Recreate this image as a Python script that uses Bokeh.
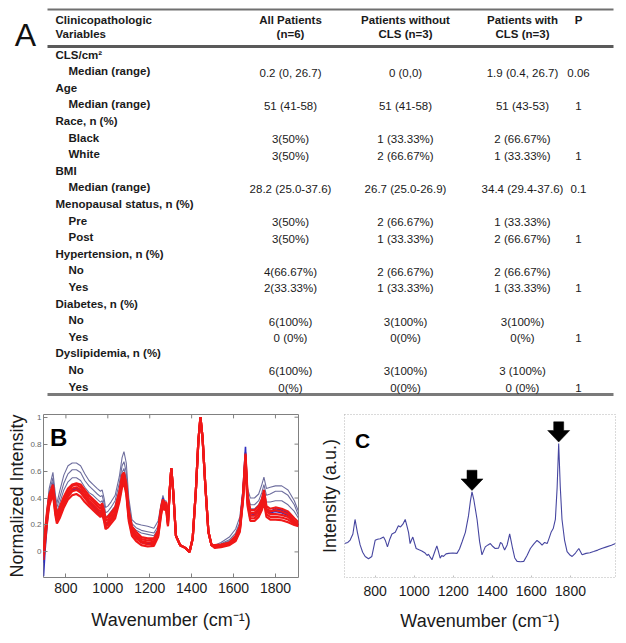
from bokeh.plotting import figure
from bokeh.layouts import column, row
from bokeh.models import Range1d, LinearAxis, FixedTicker, CustomJSTickFormatter
from bokeh.core.properties import value
from bokeh.embed import file_html
from bokeh.resources import INLINE

FONT = "Liberation Sans"

# ---------------- Panel A: table data ----------------
header_line1 = ["Clinicopathologic", "All Patients", "Patients without", "Patients with", "P"]
header_line2 = ["Variables", "(n=6)", "CLS (n=3)", "CLS (n=3)"]
row_labels = ["CLS/cm\u00b2", "Median (range)", "Age", "Median (range)", "Race, n (%)", "Black", "White",
              "BMI", "Median (range)", "Menopausal status, n (%)", "Pre", "Post", "Hypertension, n (%)",
              "No", "Yes", "Diabetes, n (%)", "No", "Yes", "Dyslipidemia, n (%)", "No", "Yes"]
row_is_group = [1, 0, 1, 0, 1, 0, 0, 1, 0, 1, 0, 0, 1, 0, 0, 1, 0, 0, 1, 0, 0]
all_patients = ["", "0.2 (0, 26.7)", "", "51 (41-58)", "", "3(50%)", "3(50%)", "", "28.2 (25.0-37.6)", "",
                "3(50%)", "3(50%)", "", "4(66.67%)", "2(33.33%)", "", "6(100%)", "0 (0%)", "", "6(100%)", "0(%)"]
without_cls = ["", "0 (0,0)", "", "51 (41-58)", "", "1 (33.33%)", "2 (66.67%)", "", "26.7 (25.0-26.9)", "",
               "2 (66.67%)", "1 (33.33%)", "", "2 (66.67%)", "1 (33.33%)", "", "3(100%)", "0(0%)", "", "3(100%)", "0(0%)"]
with_cls = ["", "1.9 (0.4, 26.7)", "", "51 (43-53)", "", "2 (66.67%)", "1 (33.33%)", "", "34.4 (29.4-37.6)", "",
            "1 (33.33%)", "2 (66.67%)", "", "2 (66.67%)", "1 (33.33%)", "", "3(100%)", "0(%)", "", "3 (100%)", "0 (0%)"]
p_values = ["", "0.06", "", "1", "", "", "1", "", "0.1", "", "", "1", "", "", "1", "", "", "1", "", "", "1"]

# ---------------- Panel B: spectra ----------------
wn_b = [693, 700, 710, 720, 738, 750, 757, 770, 790, 810, 830, 850, 870, 890, 910, 930, 950, 965, 973, 982,
        989, 1000, 1015, 1035, 1055, 1068, 1077, 1088, 1100, 1115, 1135, 1160, 1190, 1220, 1240, 1255, 1263,
        1270, 1278, 1287, 1295, 1303, 1312, 1325, 1345, 1370, 1390, 1405, 1420, 1432, 1442, 1452, 1465, 1480,
        1495, 1510, 1540, 1580, 1610, 1630, 1645, 1657, 1667, 1680, 1700, 1720, 1735, 1745, 1757, 1775, 1800,
        1830, 1860, 1890, 1910]

red_1 = [-0.06, 0.06, 0.22, 0.34, 0.43, 0.27, 0.21, 0.25, 0.33, 0.39, 0.42, 0.43, 0.41, 0.37, 0.34, 0.31, 0.28, 0.26, 0.28, 0.23,
         0.17, 0.18, 0.21, 0.25, 0.37, 0.48, 0.51, 0.43, 0.23, 0.12, 0.08, 0.05, 0.04, 0.045, 0.11, 0.28, 0.34,
         0.31, 0.32, 0.19, 0.45, 0.62, 0.45, 0.12, 0.05, 0.03, 0.0, 0.10, 0.45, 0.82, 1.0, 0.85, 0.5, 0.15,
         0.05, 0.03, 0.035, 0.05, 0.08, 0.15, 0.38, 0.66, 0.34, 0.23, 0.23, 0.26, 0.31, 0.37, 0.26, 0.24, 0.24,
         0.235, 0.22, 0.20, 0.19]
red_2 = [-0.03, 0.09, 0.24, 0.36, 0.45, 0.29, 0.23, 0.27, 0.35, 0.41, 0.45, 0.46, 0.44, 0.40, 0.36, 0.33, 0.30, 0.28, 0.30, 0.25,
         0.19, 0.20, 0.23, 0.27, 0.39, 0.51, 0.54, 0.45, 0.25, 0.14, 0.10, 0.07, 0.055, 0.06, 0.12, 0.30, 0.36,
         0.33, 0.34, 0.20, 0.45, 0.62, 0.45, 0.12, 0.05, 0.03, 0.0, 0.10, 0.45, 0.82, 1.0, 0.85, 0.5, 0.15,
         0.05, 0.035, 0.04, 0.055, 0.09, 0.16, 0.39, 0.68, 0.36, 0.25, 0.25, 0.28, 0.33, 0.40, 0.28, 0.26, 0.26,
         0.255, 0.24, 0.21, 0.20]
red_3 = [-0.01, 0.11, 0.26, 0.38, 0.47, 0.31, 0.25, 0.29, 0.37, 0.43, 0.47, 0.48, 0.46, 0.42, 0.38, 0.35, 0.32, 0.30, 0.32, 0.27,
         0.21, 0.22, 0.25, 0.29, 0.41, 0.53, 0.56, 0.47, 0.27, 0.16, 0.12, 0.08, 0.07, 0.075, 0.14, 0.32, 0.37,
         0.34, 0.35, 0.21, 0.45, 0.62, 0.45, 0.12, 0.05, 0.03, 0.0, 0.10, 0.45, 0.82, 1.0, 0.85, 0.5, 0.15,
         0.05, 0.04, 0.045, 0.06, 0.10, 0.17, 0.40, 0.70, 0.38, 0.27, 0.27, 0.30, 0.35, 0.42, 0.30, 0.28, 0.28,
         0.275, 0.26, 0.22, 0.20]
red_4 = [0.0, 0.13, 0.28, 0.40, 0.49, 0.33, 0.27, 0.31, 0.39, 0.45, 0.49, 0.50, 0.48, 0.44, 0.40, 0.37, 0.34, 0.32, 0.34, 0.29,
         0.23, 0.24, 0.27, 0.31, 0.43, 0.55, 0.58, 0.49, 0.29, 0.17, 0.13, 0.095, 0.085, 0.09, 0.15, 0.33, 0.38,
         0.35, 0.36, 0.22, 0.45, 0.62, 0.45, 0.12, 0.05, 0.03, 0.0, 0.10, 0.45, 0.82, 1.0, 0.85, 0.5, 0.15,
         0.05, 0.045, 0.05, 0.065, 0.11, 0.18, 0.41, 0.72, 0.40, 0.29, 0.29, 0.32, 0.37, 0.44, 0.32, 0.30, 0.31,
         0.30, 0.28, 0.23, 0.21]
red_5 = [0.02, 0.15, 0.30, 0.42, 0.50, 0.35, 0.28, 0.33, 0.41, 0.47, 0.50, 0.51, 0.50, 0.46, 0.42, 0.39, 0.36, 0.34, 0.36, 0.31,
         0.25, 0.26, 0.29, 0.33, 0.45, 0.57, 0.59, 0.51, 0.31, 0.19, 0.15, 0.11, 0.10, 0.10, 0.16, 0.34, 0.39,
         0.36, 0.37, 0.23, 0.45, 0.62, 0.45, 0.12, 0.05, 0.03, 0.0, 0.10, 0.45, 0.82, 1.0, 0.85, 0.5, 0.15,
         0.05, 0.05, 0.055, 0.07, 0.12, 0.19, 0.42, 0.73, 0.42, 0.31, 0.31, 0.34, 0.39, 0.46, 0.34, 0.32, 0.33,
         0.32, 0.30, 0.25, 0.22]
blue_1 = [-0.18, 0.0, 0.20, 0.38, 0.50, 0.30, 0.24, 0.28, 0.36, 0.42, 0.46, 0.47, 0.45, 0.41, 0.37, 0.34, 0.31, 0.28, 0.33, 0.26,
          0.20, 0.21, 0.24, 0.28, 0.40, 0.54, 0.57, 0.46, 0.26, 0.15, 0.11, 0.075, 0.06, 0.07, 0.13, 0.31, 0.40,
          0.35, 0.36, 0.21, 0.45, 0.62, 0.45, 0.12, 0.05, 0.03, 0.0, 0.10, 0.45, 0.82, 1.0, 0.85, 0.5, 0.15,
          0.05, 0.04, 0.05, 0.06, 0.10, 0.18, 0.45, 0.78, 0.38, 0.27, 0.28, 0.31, 0.36, 0.43, 0.31, 0.29, 0.30,
          0.29, 0.27, 0.22, 0.20]
blue_2 = [-0.08, 0.08, 0.25, 0.37, 0.46, 0.30, 0.24, 0.28, 0.36, 0.42, 0.46, 0.47, 0.45, 0.41, 0.37, 0.33, 0.29, 0.26, 0.29, 0.24,
          0.19, 0.21, 0.24, 0.28, 0.40, 0.52, 0.55, 0.46, 0.26, 0.15, 0.11, 0.07, 0.06, 0.065, 0.13, 0.31, 0.37,
          0.34, 0.35, 0.21, 0.45, 0.62, 0.45, 0.12, 0.05, 0.03, 0.0, 0.10, 0.45, 0.82, 1.0, 0.85, 0.5, 0.15,
          0.05, 0.04, 0.05, 0.06, 0.10, 0.17, 0.42, 0.74, 0.37, 0.27, 0.27, 0.30, 0.35, 0.42, 0.32, 0.30, 0.32,
          0.31, 0.29, 0.23, 0.20]
gray_1 = [-0.02, 0.14, 0.32, 0.47, 0.59, 0.42, 0.36, 0.45, 0.57, 0.64, 0.66, 0.66, 0.64, 0.58, 0.53, 0.50, 0.47, 0.45, 0.46, 0.40,
          0.33, 0.34, 0.37, 0.42, 0.56, 0.70, 0.745, 0.66, 0.40, 0.24, 0.21, 0.20, 0.19, 0.175, 0.23, 0.36, 0.42,
          0.38, 0.38, 0.24, 0.45, 0.62, 0.45, 0.12, 0.05, 0.03, 0.0, 0.10, 0.45, 0.82, 1.0, 0.85, 0.5, 0.15,
          0.06, 0.05, 0.07, 0.11, 0.17, 0.26, 0.47, 0.66, 0.47, 0.40, 0.40, 0.43, 0.50, 0.555, 0.47, 0.48, 0.49,
          0.49, 0.46, 0.38, 0.30]
gray_2 = [-0.04, 0.12, 0.30, 0.44, 0.55, 0.39, 0.33, 0.40, 0.51, 0.58, 0.61, 0.61, 0.59, 0.53, 0.49, 0.46, 0.43, 0.41, 0.42, 0.36,
          0.29, 0.30, 0.33, 0.38, 0.51, 0.64, 0.67, 0.59, 0.36, 0.21, 0.18, 0.16, 0.15, 0.14, 0.19, 0.34, 0.40,
          0.36, 0.37, 0.23, 0.45, 0.62, 0.45, 0.12, 0.05, 0.03, 0.0, 0.10, 0.45, 0.82, 1.0, 0.85, 0.5, 0.15,
          0.06, 0.045, 0.06, 0.09, 0.14, 0.22, 0.44, 0.68, 0.43, 0.35, 0.35, 0.38, 0.44, 0.50, 0.42, 0.43, 0.45,
          0.45, 0.42, 0.35, 0.27]
gray_3 = [-0.10, 0.05, 0.25, 0.40, 0.52, 0.35, 0.30, 0.36, 0.46, 0.52, 0.55, 0.55, 0.53, 0.48, 0.44, 0.42, 0.39, 0.37, 0.38, 0.32,
          0.26, 0.27, 0.30, 0.34, 0.46, 0.59, 0.62, 0.54, 0.32, 0.19, 0.16, 0.14, 0.13, 0.12, 0.17, 0.33, 0.39,
          0.35, 0.36, 0.22, 0.45, 0.62, 0.45, 0.12, 0.05, 0.03, 0.0, 0.10, 0.45, 0.82, 1.0, 0.85, 0.5, 0.15,
          0.055, 0.04, 0.055, 0.08, 0.12, 0.20, 0.42, 0.70, 0.41, 0.32, 0.32, 0.35, 0.40, 0.46, 0.37, 0.37, 0.38,
          0.38, 0.35, 0.30, 0.25]
b_ticks_x = [800, 1000, 1200, 1400, 1600, 1800]
b_ticks_y = [0, 0.2, 0.4, 0.6, 0.8, 1.0]

# ---------------- Panel C: single spectrum ----------------
wn_c = [643, 660, 672, 686, 697, 709, 723, 736, 749, 766, 783, 800, 812, 826, 843, 853, 863, 875, 886, 903,
        919, 930, 942, 954, 962, 971, 979, 986, 993, 1002, 1010, 1025, 1039, 1056, 1066, 1073, 1082, 1091, 1103,
        1116, 1124, 1133, 1141, 1150, 1163, 1176, 1198, 1219, 1232, 1245, 1262, 1278, 1288, 1296, 1305, 1322,
        1335, 1347, 1356, 1364, 1378, 1390, 1403, 1415, 1432, 1442, 1450, 1457, 1463, 1476, 1489, 1497, 1504,
        1515, 1527, 1545, 1561, 1578, 1595, 1612, 1629, 1642, 1655, 1668, 1681, 1692, 1701, 1712, 1723, 1732,
        1740, 1748, 1757, 1770, 1783, 1796, 1809, 1826, 1843, 1860, 1880, 1900, 1919, 1940, 1960, 1985, 2010, 2031]
int_c = [0.208, 0.215, 0.230, 0.267, 0.356, 0.277, 0.200, 0.155, 0.129, 0.115, 0.129, 0.228, 0.235, 0.238, 0.248,
         0.225, 0.188, 0.235, 0.267, 0.277, 0.317, 0.310, 0.327, 0.356, 0.320, 0.277, 0.208, 0.230, 0.248, 0.210,
         0.178, 0.170, 0.163, 0.150, 0.135, 0.143, 0.125, 0.109, 0.150, 0.194, 0.160, 0.119, 0.135, 0.129, 0.145,
         0.148, 0.150, 0.148, 0.175, 0.218, 0.277, 0.378, 0.470, 0.525, 0.480, 0.356, 0.220, 0.139, 0.165, 0.188,
         0.200, 0.208, 0.190, 0.178, 0.180, 0.215, 0.208, 0.185, 0.169, 0.200, 0.267, 0.220, 0.178, 0.120, 0.099,
         0.097, 0.099, 0.135, 0.178, 0.205, 0.228, 0.215, 0.198, 0.215, 0.208, 0.245, 0.277, 0.300, 0.356, 0.550,
         0.822, 0.560, 0.356, 0.230, 0.159, 0.140, 0.129, 0.150, 0.178, 0.139, 0.148, 0.152, 0.159, 0.168, 0.178,
         0.188, 0.198, 0.208]
c_peak_wn = [1296, 1740]
c_peak_int = [0.525, 0.822]
c_ticks_x = [800, 1000, 1200, 1400, 1600, 1800]

# =============== Panel A figure ===============
TW, TH = 623, 400
pt = figure(width=TW, height=TH, x_range=Range1d(0, TW), y_range=Range1d(TH, 0),
            output_backend="svg", toolbar_location=None, min_border=0,
            x_axis_location=None, y_axis_location=None, outline_line_color=None)
pt.grid.visible = False
TXT = "#1a1a1a"
FS = "11.5px"
col_x = [290, 405, 522, 578]
label_x_group, label_x_sub = 55, 68
row_y0, row_dy = 54.0, 16.6

pt.segment(x0=[47, 47, 47], y0=[9, 46, 394], x1=[613, 613, 613], y1=[9, 46, 394],
           line_width=[2, 3, 3], line_color=["#707070", "#5a5a5a", "#7a7a7a"])

pt.text(x=[label_x_group, label_x_group], y=[19, 33], text=[header_line1[0], header_line2[0]],
        text_font=value(FONT), text_font_size=FS, text_font_style="bold", text_align="left",
        text_baseline="middle", text_color=TXT)
pt.text(x=col_x, y=[19] * 4, text=header_line1[1:], text_font=value(FONT), text_font_size=FS,
        text_font_style="bold", text_align="center", text_baseline="middle", text_color=TXT)
pt.text(x=col_x[:3], y=[33] * 3, text=header_line2[1:], text_font=value(FONT), text_font_size=FS,
        text_font_style="bold", text_align="center", text_baseline="middle", text_color=TXT)

ys = [row_y0 + i * row_dy for i in range(len(row_labels))]
lx = [label_x_group if g else label_x_sub for g in row_is_group]
pt.text(x=lx, y=ys, text=row_labels, text_font=value(FONT), text_font_size=FS, text_font_style="bold",
        text_align="left", text_baseline="middle", text_color=TXT)
for cx, colvals in zip(col_x, [all_patients, without_cls, with_cls, p_values]):
    keep = [i for i, v in enumerate(colvals) if v]
    pt.text(x=[cx] * len(keep), y=[ys[i] + 1.5 for i in keep], text=[colvals[i] for i in keep],
            text_font=value(FONT), text_font_size=FS, text_align="center", text_baseline="middle",
            text_color=TXT)

pt.text(x=[25], y=[34], text=["A"], text_font=value(FONT), text_font_size="32px",
        text_align="center", text_baseline="middle", text_color="#111111")


def style_axis(ax, ticks, fs, color, label_standoff=2):
    ax.ticker = FixedTicker(ticks=ticks)
    ax.axis_line_color = None
    ax.major_tick_in = 4
    ax.major_tick_out = 0
    ax.major_tick_line_color = "#808080"
    ax.minor_tick_line_color = None
    ax.major_label_standoff = label_standoff
    ax.major_label_text_font = FONT
    ax.major_label_text_color = color
    ax.major_label_text_font_size = fs
    ax.axis_label_text_font = FONT
    ax.axis_label_text_font_style = "normal"
    ax.axis_label_text_font_size = "18px"
    ax.axis_label_text_color = "#1a1a1a"


# =============== Panel B figure ===============
BW, BH = 313, 240
b_l, b_r, b_t, b_b = 43, 15, 14, 58
bx0, bx1, by0, by1 = 693, 1910, -0.19, 1.02
pB = figure(width=BW, height=BH, x_range=Range1d(bx0, bx1), y_range=Range1d(by0, by1),
            output_backend="svg", toolbar_location=None,
            min_border_left=b_l, min_border_right=b_r, min_border_top=b_t, min_border_bottom=b_b,
            x_axis_location=None, y_axis_location=None,
            outline_line_color="#808080", outline_line_width=1)
pB.grid.visible = False

axb = LinearAxis(axis_label="Wavenumber (cm\u207b\u00b9)")
style_axis(axb, b_ticks_x, "14px", "#1a1a1a", label_standoff=5)
axb.axis_label_standoff = 14
pB.add_layout(axb, "below")
ayb = LinearAxis(axis_label="Normalized Intensity")
style_axis(ayb, b_ticks_y, "8px", "#666666", label_standoff=2)
ayb.axis_label_standoff = 0
ayb.formatter = CustomJSTickFormatter(code="return String(Math.round(tick*10)/10);")
pB.add_layout(ayb, "left")

# mirrored tick marks on the top and right edges of the frame
bux = (bx1 - bx0) / (BW - b_l - b_r)
buy = (by1 - by0) / (BH - b_t - b_b)
pB.segment(x0=b_ticks_x, y0=[by1] * len(b_ticks_x), x1=b_ticks_x, y1=[by1 - 4 * buy] * len(b_ticks_x),
           line_color="#808080", line_width=1)
pB.segment(x0=[bx1] * len(b_ticks_y), y0=b_ticks_y, x1=[bx1 - 4 * bux] * len(b_ticks_y), y1=b_ticks_y,
           line_color="#808080", line_width=1)

for s in [gray_1, gray_2, gray_3]:
    pB.line(wn_b, s, line_color="#6e6e9e", line_width=1.1)
for s in [blue_1, blue_2]:
    pB.line(wn_b, s, line_color="#2f2fc0", line_width=1.6)
for s in [red_1, red_2, red_3, red_4, red_5]:
    pB.line(wn_b, s, line_color="#f01818", line_width=2.2)

pB.text(x=[bx0 + 6.5 * bux], y=[by1 - 10 * buy], text=["B"], text_font=value(FONT), text_font_size="24px",
        text_font_style="bold", text_align="left", text_baseline="top", text_color="#000000")

# =============== Panel C figure ===============
CW, CH = 310, 240
c_l, c_r, c_t, c_b = 31, 8, 8, 63
cx0, cx1, cy0, cy1 = 643, 2031, 0.0, 1.0
pC = figure(width=CW, height=CH, x_range=Range1d(cx0, cx1), y_range=Range1d(cy0, cy1),
            output_backend="svg", toolbar_location=None,
            min_border_left=c_l, min_border_right=c_r, min_border_top=c_t, min_border_bottom=c_b,
            x_axis_location=None, y_axis_location=None,
            outline_line_color="#b5b5b5", outline_line_dash="1 2", outline_line_width=1)
pC.grid.visible = False

axc = LinearAxis(axis_label="Wavenumber (cm\u207b\u00b9)")
style_axis(axc, c_ticks_x, "14px", "#1a1a1a", label_standoff=8)
axc.major_tick_line_color = "#c0c0c0"
axc.major_tick_in = 2
axc.axis_label_standoff = 12
pC.add_layout(axc, "below")
ayc = LinearAxis(axis_label="Intensity (a.u.)")
style_axis(ayc, [], "8px", "#666666", label_standoff=0)
ayc.axis_label_standoff = 5
pC.add_layout(ayc, "left")

pC.line(wn_c, int_c, line_color="#4646a0", line_width=1.1)

# block arrows above the two marked peaks (sizes in screen pixels)
ux = (cx1 - cx0) / (CW - c_l - c_r)
uy = (cy1 - cy0) / (CH - c_t - c_b)
shape = [(0, 0), (11, 12), (5, 12), (5, 21), (-5, 21), (-5, 12), (-11, 12)]
axs, ays = [], []
for pw, pi in zip(c_peak_wn, c_peak_int):
    axs.append([pw + dx * ux for dx, dy in shape])
    ays.append([pi + (1.5 + dy) * uy for dx, dy in shape])
pC.patches(axs, ays, fill_color="#000000", line_color="#000000", line_width=0.5)

pC.text(x=[cx0 + 10.5 * ux], y=[cy1 - 15.5 * uy], text=["C"], text_font=value(FONT), text_font_size="21px",
        text_font_style="bold", text_align="left", text_baseline="top", text_color="#000000")

layout = column(pt, row(pB, pC))
open("out.html", "w").write(file_html(layout, INLINE))
